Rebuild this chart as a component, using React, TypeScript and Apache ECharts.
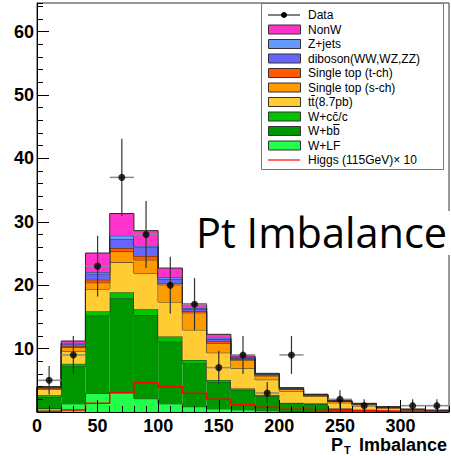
import React, { useEffect, useRef } from "react";
import * as echarts from "echarts";

// Bin edges of the P_T imbalance histogram (GeV)
const binEdges = [0, 20, 40, 60, 80, 100, 120, 140, 160, 180, 200, 220, 240, 260, 280, 300, 320, 340];

// Expected events per bin, per background (stacked bottom to top)
const wLF = [0.55, 1.3, 2.95, 3.05, 2.1, 1.3, 0.84, 0.5, 0.35, 0.2, 0.1, 0.05, 0.03, 0.02, 0.01, 0.01, 0.0];
const wBB = [1.85, 5.9, 12.25, 14.9, 13.2, 9.8, 6.86, 4.25, 3.15, 2.3, 1.25, 1.2, 0.45, 0.3, 0.15, 0.08, 0.05];
const wCC = [0.25, 0.4, 0.66, 0.95, 0.9, 0.8, 0.5, 0.3, 0.2, 0.2, 0.1, 0.1, 0.07, 0.05, 0.03, 0.02, 0.01];
const ttbar = [0.95, 2.0, 3.54, 4.7, 5.7, 5.45, 4.75, 4.3, 3.2, 2.4, 1.85, 1.1, 0.9, 0.6, 0.35, 0.18, 0.12];
const singleTopS = [0.15, 0.6, 1.0, 1.7, 2.1, 2.7, 2.7, 1.5, 1.3, 0.6, 0.25, 0.2, 0.2, 0.25, 0.15, 0.08, 0.05];
const singleTopT = [0.1, 0.2, 0.46, 0.55, 0.6, 0.3, 0.2, 0.3, 0.15, 0.15, 0.1, 0.05, 0.04, 0.05, 0.05, 0.02, 0.01];
const diboson = [0.05, 0.35, 0.94, 1.45, 1.35, 0.6, 0.4, 0.35, 0.15, 0.1, 0.08, 0.05, 0.04, 0.04, 0.03, 0.02, 0.01];
const zJets = [0.03, 0.15, 0.27, 0.5, 0.25, 0.25, 0.15, 0.2, 0.1, 0.05, 0.05, 0.02, 0.02, 0.02, 0.02, 0.01, 0.01];
const nonW = [0.07, 0.3, 3.0, 3.5, 2.4, 1.5, 0.65, 0.55, 0.25, 0.1, 0.05, 0.03, 0.03, 0.04, 0.05, 0.03, 0.02];

// Observed events per bin
const dataCounts = [5, 9, 23, 37, 28, 20, 17, 7, 9, 3, 9, 0, 2, 1, 0, 1, 1];

// Higgs (115 GeV) signal, scaled by 10
const higgsX10 = [0.1, 0.32, 1.37, 3.05, 4.63, 4.0, 2.95, 2.0, 1.15, 0.74, 0.42, 0.32, 0.25, 0.2, 0.12, 0.08, 0.05];

const xTicks = [0, 50, 100, 150, 200, 250, 300];
const yTicks = [10, 20, 30, 40, 50, 60];

// bar: pixel span of an anti-quark overline drawn above the legend label
const stackLayers = [
  { name: "W+LF", values: wLF, color: "#22ff4a" },
  { name: "W+bb", values: wBB, color: "#009600", bar: [333.2, 339.6] },
  { name: "W+cc\u0304/c", values: wCC, color: "#00c400" },
  { name: "tt(8.7pb)", values: ttbar, color: "#ffcc33", bar: [311.2, 314.8] },
  { name: "Single top (s-ch)", values: singleTopS, color: "#ff9a00" },
  { name: "Single top (t-ch)", values: singleTopT, color: "#ff5a00" },
  { name: "diboson(WW,WZ,ZZ)", values: diboson, color: "#6666ff" },
  { name: "Z+jets", values: zJets, color: "#6699ff" },
  { name: "NonW", values: nonW, color: "#ff33cc" },
];

const FONT = "Liberation Sans, Arial, Helvetica, sans-serif";

// Step points: left edge of each bin, plus the closing right edge
function stepData(values: number[]) {
  const pts = values.map((v, i) => [binEdges[i], v]);
  pts.push([binEdges[binEdges.length - 1], values[values.length - 1]]);
  return pts;
}

export default function App() {
  const ref = useRef<HTMLDivElement>(null);

  useEffect(() => {
    document.body.style.margin = "0";
    if (!ref.current) return;
    const chart = echarts.init(ref.current, undefined, { renderer: "svg" });

    // Running sum of the stack, bin by bin
    const running = binEdges.slice(0, -1).map(() => 0);
    const stackSeries = stackLayers.map((layer, k) => {
      const items = layer.values.map((v, i) => {
        const base = running[i];
        return [binEdges[i], binEdges[i + 1], base, base + v];
      });
      items.forEach((it, i) => {
        running[i] = it[3];
      });
      // previous bin's top of this layer, for the step's vertical edge
      const data = items.map((it, i) => [...it, i > 0 ? items[i - 1][3] : 0]);
      return {
        name: layer.name,
        type: "custom",
        z: 10 + k,
        data,
        renderItem: (params: any, api: any) => {
          const x0 = api.value(0);
          const x1 = api.value(1);
          const b = api.value(2);
          const t = api.value(3);
          const prev = api.value(4);
          const p0 = api.coord([x0, b]);
          const p1 = api.coord([x1, t]);
          const pPrev = api.coord([x0, prev]);
          return {
            type: "group",
            children: [
              {
                type: "rect",
                shape: { x: p0[0], y: p1[1], width: p1[0] - p0[0], height: p0[1] - p1[1] },
                style: { fill: layer.color },
              },
              {
                type: "line",
                z2: 5,
                shape: { x1: p0[0], y1: p1[1], x2: p1[0], y2: p1[1] },
                style: { stroke: "#2a2a2a", lineWidth: 1 },
              },
              {
                type: "line",
                z2: 5,
                shape: { x1: p0[0], y1: pPrev[1], x2: p0[0], y2: p1[1] },
                style: { stroke: "#2a2a2a", lineWidth: 1 },
              },
            ],
          };
        },
      };
    });

    const dataPoints = dataCounts
      .map((c, i) => [(binEdges[i] + binEdges[i + 1]) / 2, c, Math.sqrt(c)])
      .filter((d) => d[1] > 0);

    const halfBin = (binEdges[1] - binEdges[0]) / 2;

    const legendRows = [
      { label: "Data", kind: "data" },
      ...stackLayers
        .slice()
        .reverse()
        .map((l: any) => ({ label: l.name, kind: "fill", color: l.color, bar: l.bar })),
      { label: "Higgs (115GeV)\u00d7 10", kind: "line" },
    ];

    const legendTop = 15;
    const rowStep = 14.5;
    const LZ = 100;
    const legendChildren: any[] = [
      {
        type: "rect",
        z: LZ,
        shape: { x: 261.5, y: 3.5, width: 182, height: 166 },
        style: { fill: "#fff", stroke: "#777", lineWidth: 1 },
      },
    ];
    legendRows.forEach((row: any, i) => {
      const cy = legendTop + i * rowStep;
      if (row.kind === "data") {
        legendChildren.push({
          type: "line",
          z: LZ + 1,
          shape: { x1: 268, y1: cy, x2: 300, y2: cy },
          style: { stroke: "#000", lineWidth: 1 },
        });
        legendChildren.push({
          type: "circle",
          z: LZ + 2,
          shape: { cx: 284, cy, r: 3 },
          style: { fill: "#000" },
        });
      } else if (row.kind === "line") {
        legendChildren.push({
          type: "line",
          z: LZ + 1,
          shape: { x1: 268, y1: cy, x2: 300, y2: cy },
          style: { stroke: "#ff0000", lineWidth: 1.2 },
        });
      } else {
        legendChildren.push({
          type: "rect",
          z: LZ + 1,
          shape: { x: 268.5, y: cy - 4.5, width: 32, height: 9 },
          style: { fill: row.color, stroke: "#333", lineWidth: 1 },
        });
      }
      if (row.bar) {
        legendChildren.push({
          type: "line",
          z: LZ + 1,
          shape: { x1: row.bar[0], y1: cy - 6.5, x2: row.bar[1], y2: cy - 6.5 },
          style: { stroke: "#000", lineWidth: 1 },
        });
      }
      legendChildren.push({
        type: "text",
        z: LZ + 1,
        x: 308,
        y: cy,
        style: {
          text: row.label,
          fill: "#000",
          font: `12px ${FONT}`,
          textAlign: "left",
          textVerticalAlign: "middle",
        },
      });
    });

    const option: any = {
      animation: false,
      backgroundColor: "#fff",
      grid: {
        left: 37,
        right: 2,
        top: 3,
        bottom: 44,
        show: true,
        borderColor: "#333",
        borderWidth: 1,
        backgroundColor: "transparent",
      },
      xAxis: [
        {
          type: "value",
          min: 0,
          max: 340,
          interval: 50,
          position: "bottom",
          axisLine: { show: true, onZero: false, lineStyle: { color: "#000", width: 1 } },
          axisTick: { show: true, inside: true, length: 12, lineStyle: { color: "#000" } },
          splitLine: { show: false },
          axisLabel: {
            show: true,
            margin: 5,
            color: "#000",
            fontFamily: FONT,
            fontWeight: "bold",
            fontSize: 18,
            showMaxLabel: false,
            formatter: (v: number) => (xTicks.includes(v) ? String(v) : ""),
          },
          z: 30,
        },
        {
          type: "value",
          min: 0,
          max: 340,
          interval: 10,
          position: "bottom",
          axisLine: { show: false },
          axisTick: { show: true, inside: true, length: 6, lineStyle: { color: "#000" } },
          splitLine: { show: false },
          axisLabel: { show: false },
          z: 30,
        },
      ],
      yAxis: [
        {
          type: "value",
          min: 0,
          max: 64.5,
          interval: 10,
          position: "left",
          axisLine: { show: true, onZero: false, lineStyle: { color: "#000", width: 1 } },
          axisTick: { show: true, inside: true, length: 12, lineStyle: { color: "#000" } },
          splitLine: { show: false },
          axisLabel: {
            show: true,
            margin: 3,
            color: "#000",
            fontFamily: FONT,
            fontWeight: "bold",
            fontSize: 18,
            showMinLabel: false,
            showMaxLabel: false,
            formatter: (v: number) => (yTicks.includes(v) ? String(v) : ""),
          },
          z: 30,
        },
        {
          type: "value",
          min: 0,
          max: 64.5,
          interval: 2,
          position: "left",
          axisLine: { show: false },
          axisTick: { show: true, inside: true, length: 6, lineStyle: { color: "#000" } },
          splitLine: { show: false },
          axisLabel: { show: false },
          z: 30,
        },
      ],
      series: [
        ...stackSeries,
        {
          name: "Higgs (115GeV) x 10",
          type: "line",
          step: "end",
          symbol: "none",
          z: 25,
          lineStyle: { color: "#ff0000", width: 1.5 },
          data: stepData(higgsX10),
        },
        {
          name: "Data errors",
          type: "custom",
          z: 26,
          data: dataPoints,
          renderItem: (params: any, api: any) => {
            const x = api.value(0);
            const y = api.value(1);
            const e = api.value(2);
            const l = api.coord([x - halfBin, y]);
            const r = api.coord([x + halfBin, y]);
            const t = api.coord([x, y + e]);
            const b = api.coord([x, y - e]);
            return {
              type: "group",
              children: [
                {
                  type: "line",
                  shape: { x1: l[0], y1: l[1], x2: r[0], y2: r[1] },
                  style: { stroke: "#8a8a8a", lineWidth: 1.5 },
                },
                {
                  type: "line",
                  shape: { x1: t[0], y1: t[1], x2: b[0], y2: b[1] },
                  style: { stroke: "#333", lineWidth: 1.2 },
                },
              ],
            };
          },
        },
        {
          name: "Data",
          type: "scatter",
          z: 27,
          symbol: "circle",
          symbolSize: 7,
          itemStyle: { color: "#000" },
          data: dataPoints.map((d) => [d[0], d[1]]),
        },
      ],
      graphic: [
        ...legendChildren,
        {
          type: "rect",
          z: 100,
          shape: { x: 195, y: 211, width: 256, height: 44 },
          style: { fill: "#fff" },
        },
        {
          type: "text",
          z: 101,
          x: 196,
          y: 232,
          style: {
            text: "Pt Imbalance",
            fill: "#000",
            font: `41.5px "Open Sans", sans-serif`,
            textAlign: "left",
            textVerticalAlign: "middle",
          },
        },
        {
          type: "text",
          z: 101,
          x: 331,
          y: 445,
          style: {
            text: "P",
            fill: "#000",
            font: `bold 18px ${FONT}`,
            textAlign: "left",
            textVerticalAlign: "middle",
          },
        },
        {
          type: "text",
          z: 101,
          x: 344,
          y: 449.5,
          style: {
            text: "T",
            fill: "#000",
            font: `bold 11px ${FONT}`,
            textAlign: "left",
            textVerticalAlign: "middle",
          },
        },
        {
          type: "text",
          z: 101,
          x: 447,
          y: 445,
          style: {
            text: "Imbalance",
            fill: "#000",
            font: `bold 18px ${FONT}`,
            textAlign: "right",
            textVerticalAlign: "middle",
          },
        },
      ],
    };

    chart.setOption(option);
    return () => chart.dispose();
  }, []);

  return <div ref={ref} style={{ width: 451, height: 456 }} />;
}
